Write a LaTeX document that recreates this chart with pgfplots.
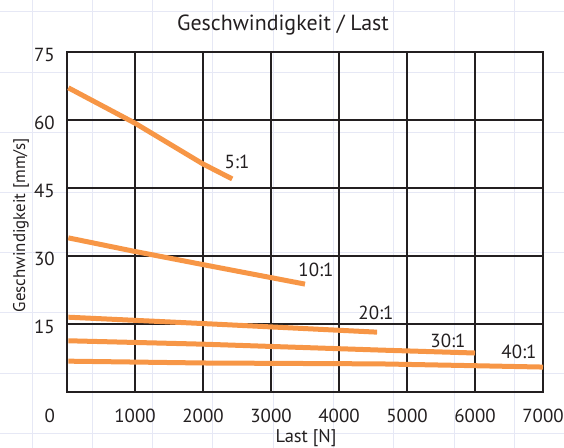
\documentclass[border=0pt]{standalone}
\usepackage{fontspec}
\setmainfont{PT Sans}
\usepackage{pgfplots}
\pgfplotsset{compat=1.18}
\definecolor{curve}{HTML}{F79646}
\definecolor{gridc}{HTML}{231F20}
\definecolor{paper}{HTML}{E6E8F5}
\begin{document}
\begin{tikzpicture}
\path[use as bounding box] (0bp,0bp) rectangle (564bp,448bp);
\foreach \i in {0,...,9} \draw[paper, line width=1bp] ({(32+60.3*\i)*1bp},0bp) -- ({(32+60.3*\i)*1bp},448bp);
\foreach \j in {0,...,7} \draw[paper, line width=1bp] (0bp,{(436-60.2*\j)*1bp}) -- (564bp,{(436-60.2*\j)*1bp});
\node[font=\fontsize{22}{22}\selectfont, text=gridc] at (283bp,423bp) {Geschwindigkeit / Last};
\node[font=\fontsize{17}{17}\selectfont, text=gridc, rotate=90] at (21bp,223bp) {Geschwindigkeit [mm/s]};
\node[font=\fontsize{18.5}{18.5}\selectfont, text=gridc] at (306bp,10bp) {Last [N]};
\begin{axis}[
  at={(67bp,56bp)}, anchor=south west,
  scale only axis, width=476bp, height=340bp,
  xmin=0, xmax=7000, ymin=0, ymax=75,
  xtick={0,1000,...,7000},
  xticklabels={\makebox[0pt][r]{0\hspace{12bp}},1000,2000,3000,4000,5000,6000,7000},
  ytick={0,15,30,45,60,75},
  yticklabels={,15,30,45,60,75},
  major tick length=0pt,
  /pgf/number format/assume math mode=true,
  scaled ticks=false,
  xticklabel style={font=\fontsize{19}{19}\selectfont, text=gridc, anchor=base, inner sep=0pt, yshift=-30bp},
  yticklabel style={font=\fontsize{19}{19}\selectfont, text=gridc, anchor=east, inner sep=0pt, xshift=-12bp, yshift=-3bp},
  grid=major,
  major grid style={gridc, line width=2.5bp},
  axis line style={gridc, line width=2.5bp},
  clip=false,
]
\addplot[curve, line width=5bp] coordinates {(20,67.1) (1000,59.3) (2000,50.3) (2430,47.0)};
\addplot[curve, line width=5bp] coordinates {(20,34.0) (1000,31.0) (2000,28.1) (3500,23.8)};
\addplot[curve, line width=5bp] coordinates {(20,16.5) (2000,15.1) (4560,13.2)};
\addplot[curve, line width=5bp] coordinates {(20,11.3) (2000,10.55) (4600,9.25) (6000,8.6)};
\addplot[curve, line width=5bp] coordinates {(20,6.8) (2000,6.4) (4600,6.2) (6000,5.8) (7000,5.5)};
\node[font=\fontsize{19}{19}\selectfont, text=gridc] at (axis cs:2500,50.7) {5:1};
\node[font=\fontsize{19}{19}\selectfont, text=gridc] at (axis cs:3662,26.9) {10:1};
\node[font=\fontsize{19}{19}\selectfont, text=gridc] at (axis cs:4544,17.4) {20:1};
\node[font=\fontsize{19}{19}\selectfont, text=gridc] at (axis cs:5603,11.25) {30:1};
\node[font=\fontsize{19}{19}\selectfont, text=gridc] at (axis cs:6647,8.8) {40:1};
\end{axis}
\end{tikzpicture}
\end{document}
